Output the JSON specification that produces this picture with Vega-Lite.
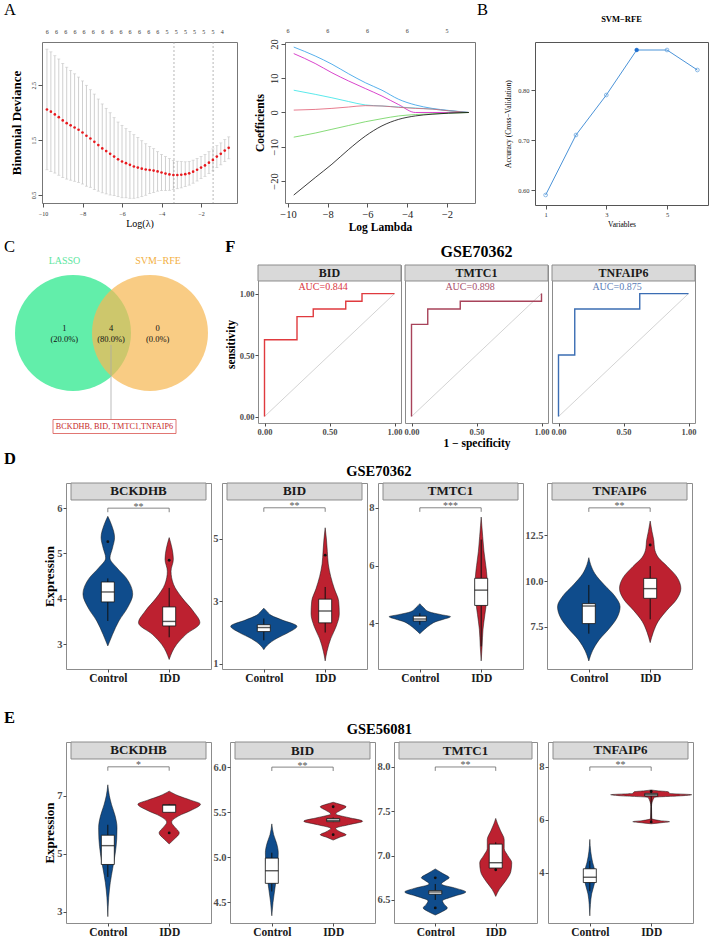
{
"padding":{"left":3,"top":1,"right":0,"bottom":0},
"background":"white",
"config":{
 "font":"Liberation Serif",
 "view":{"stroke":null},
 "axis":{"grid":false,"domain":false,"labelFontWeight":"bold","labelColor":"#4d4d4d","labelFontSize":10.5,"tickColor":"#4d4d4d","tickSize":3,"labelPadding":1,"titleFontWeight":"bold","titleColor":"#000","labelFlush":false,"labelOverlap":false}
},
"datasets":{
 "cv":[
  {"l":-9.8,"m":2.06,"lo":0.96,"hi":3.16},{"l":-9.6,"m":2.02,"lo":0.93,"hi":3.11},{"l":-9.4,"m":1.97,"lo":0.9,"hi":3.04},{"l":-9.2,"m":1.92,"lo":0.86,"hi":2.98},
  {"l":-9.0,"m":1.86,"lo":0.82,"hi":2.9},{"l":-8.8,"m":1.81,"lo":0.79,"hi":2.83},{"l":-8.6,"m":1.77,"lo":0.77,"hi":2.77},{"l":-8.4,"m":1.73,"lo":0.75,"hi":2.71},
  {"l":-8.2,"m":1.69,"lo":0.73,"hi":2.65},{"l":-8.0,"m":1.64,"lo":0.7,"hi":2.58},{"l":-7.8,"m":1.58,"lo":0.66,"hi":2.5},{"l":-7.6,"m":1.53,"lo":0.64,"hi":2.42},
  {"l":-7.4,"m":1.47,"lo":0.6,"hi":2.34},{"l":-7.2,"m":1.41,"lo":0.57,"hi":2.25},{"l":-7.0,"m":1.35,"lo":0.54,"hi":2.16},{"l":-6.8,"m":1.3,"lo":0.52,"hi":2.08},
  {"l":-6.6,"m":1.25,"lo":0.5,"hi":2.0},{"l":-6.4,"m":1.2,"lo":0.49,"hi":1.91},{"l":-6.2,"m":1.15,"lo":0.47,"hi":1.83},{"l":-6.0,"m":1.11,"lo":0.45,"hi":1.77},
  {"l":-5.8,"m":1.08,"lo":0.45,"hi":1.71},{"l":-5.6,"m":1.05,"lo":0.44,"hi":1.66},{"l":-5.4,"m":1.02,"lo":0.44,"hi":1.6},{"l":-5.2,"m":1.0,"lo":0.45,"hi":1.55},
  {"l":-5.0,"m":0.98,"lo":0.47,"hi":1.49},{"l":-4.8,"m":0.965,"lo":0.495,"hi":1.435},{"l":-4.6,"m":0.955,"lo":0.525,"hi":1.385},{"l":-4.4,"m":0.945,"lo":0.545,"hi":1.345},
  {"l":-4.2,"m":0.93,"lo":0.57,"hi":1.29},{"l":-4.0,"m":0.91,"lo":0.58,"hi":1.24},{"l":-3.8,"m":0.89,"lo":0.58,"hi":1.2},{"l":-3.6,"m":0.875,"lo":0.585,"hi":1.165},
  {"l":-3.4,"m":0.865,"lo":0.6,"hi":1.13},{"l":-3.2,"m":0.865,"lo":0.615,"hi":1.115},{"l":-3.0,"m":0.87,"lo":0.63,"hi":1.11},{"l":-2.8,"m":0.88,"lo":0.655,"hi":1.105},
  {"l":-2.6,"m":0.895,"lo":0.68,"hi":1.11},{"l":-2.4,"m":0.925,"lo":0.715,"hi":1.135},{"l":-2.2,"m":0.96,"lo":0.755,"hi":1.165},{"l":-2.0,"m":1.0,"lo":0.8,"hi":1.2},
  {"l":-1.8,"m":1.04,"lo":0.84,"hi":1.24},{"l":-1.6,"m":1.09,"lo":0.89,"hi":1.29},{"l":-1.4,"m":1.14,"lo":0.94,"hi":1.34},{"l":-1.2,"m":1.2,"lo":1.0,"hi":1.4},
  {"l":-1.0,"m":1.25,"lo":1.05,"hi":1.45},{"l":-0.8,"m":1.31,"lo":1.11,"hi":1.51},{"l":-0.6,"m":1.36,"lo":1.16,"hi":1.56}
 ],
 "cvn":[
  {"l":-9.78,"y":3.474,"n":"6"},{"l":-9.31,"y":3.474,"n":"6"},{"l":-8.85,"y":3.474,"n":"6"},{"l":-8.38,"y":3.474,"n":"6"},{"l":-7.92,"y":3.474,"n":"6"},{"l":-7.45,"y":3.474,"n":"6"},{"l":-6.98,"y":3.474,"n":"6"},
  {"l":-6.52,"y":3.474,"n":"6"},{"l":-6.05,"y":3.474,"n":"6"},{"l":-5.59,"y":3.474,"n":"6"},{"l":-5.12,"y":3.474,"n":"6"},{"l":-4.65,"y":3.474,"n":"6"},{"l":-4.19,"y":3.474,"n":"6"},
  {"l":-3.72,"y":3.474,"n":"5"},{"l":-3.26,"y":3.474,"n":"5"},{"l":-2.79,"y":3.474,"n":"5"},{"l":-2.33,"y":3.474,"n":"5"},{"l":-1.86,"y":3.474,"n":"5"},{"l":-1.4,"y":3.474,"n":"5"},{"l":-0.93,"y":3.474,"n":"4"}
 ],
 "coef":[
  {"s":"v1","l":-9.71,"c":19.1},{"s":"v1","l":-8.63,"c":16.5},{"s":"v1","l":-7.79,"c":14.1},{"s":"v1","l":-6.95,"c":11.3},{"s":"v1","l":-6.11,"c":8.7},{"s":"v1","l":-5.27,"c":6.5},{"s":"v1","l":-4.43,"c":3.85},{"s":"v1","l":-3.59,"c":2.2},{"s":"v1","l":-2.75,"c":1.2},{"s":"v1","l":-1.91,"c":0.6},{"s":"v1","l":-0.9,"c":0},
  {"s":"v2","l":-9.71,"c":17.2},{"s":"v2","l":-8.63,"c":14.3},{"s":"v2","l":-7.79,"c":11.6},{"s":"v2","l":-6.95,"c":9.2},{"s":"v2","l":-6.11,"c":7.0},{"s":"v2","l":-5.27,"c":4.8},{"s":"v2","l":-4.43,"c":2.3},{"s":"v2","l":-3.59,"c":0},{"s":"v2","l":-2.75,"c":0},{"s":"v2","l":-1.91,"c":0},{"s":"v2","l":-0.9,"c":0},
  {"s":"v3","l":-9.71,"c":6.5},{"s":"v3","l":-8.63,"c":5.3},{"s":"v3","l":-7.79,"c":4.3},{"s":"v3","l":-6.95,"c":3.2},{"s":"v3","l":-6.11,"c":2.2},{"s":"v3","l":-5.27,"c":1.9},{"s":"v3","l":-4.43,"c":1.6},{"s":"v3","l":-3.59,"c":1.3},{"s":"v3","l":-2.75,"c":1.0},{"s":"v3","l":-1.91,"c":0.5},{"s":"v3","l":-0.9,"c":0},
  {"s":"v4","l":-9.71,"c":0.7},{"s":"v4","l":-8.63,"c":0.9},{"s":"v4","l":-7.79,"c":1.2},{"s":"v4","l":-6.95,"c":1.6},{"s":"v4","l":-6.11,"c":2.0},{"s":"v4","l":-5.27,"c":1.9},{"s":"v4","l":-4.43,"c":1.5},{"s":"v4","l":-3.59,"c":1.2},{"s":"v4","l":-2.75,"c":1.0},{"s":"v4","l":-1.91,"c":0.5},{"s":"v4","l":-0.9,"c":0},
  {"s":"v5","l":-9.71,"c":-7.2},{"s":"v5","l":-8.63,"c":-6.0},{"s":"v5","l":-7.79,"c":-4.9},{"s":"v5","l":-6.95,"c":-3.8},{"s":"v5","l":-6.11,"c":-2.7},{"s":"v5","l":-5.27,"c":-1.8},{"s":"v5","l":-4.43,"c":-1.0},{"s":"v5","l":-3.59,"c":-0.6},{"s":"v5","l":-2.75,"c":-0.4},{"s":"v5","l":-1.91,"c":-0.2},{"s":"v5","l":-0.9,"c":0},
  {"s":"v6","l":-9.71,"c":-24.1},{"s":"v6","l":-8.63,"c":-19.0},{"s":"v6","l":-7.79,"c":-15.1},{"s":"v6","l":-6.95,"c":-10.8},{"s":"v6","l":-6.11,"c":-6.9},{"s":"v6","l":-5.27,"c":-3.9},{"s":"v6","l":-4.43,"c":-2.0},{"s":"v6","l":-3.59,"c":-1.0},{"s":"v6","l":-2.75,"c":-0.5},{"s":"v6","l":-1.91,"c":-0.2},{"s":"v6","l":-0.9,"c":0}
 ],
 "coefn":[{"l":-10,"c":23.8,"n":"6"},{"l":-8,"c":23.8,"n":"6"},{"l":-6,"c":23.8,"n":"6"},{"l":-4,"c":23.8,"n":"6"},{"l":-2,"c":23.8,"n":"5"}],
 "svm":[{"n":1,"a":0.59,"best":0},{"n":2,"a":0.71,"best":0},{"n":3,"a":0.79,"best":0},{"n":4,"a":0.88,"best":1},{"n":5,"a":0.88,"best":0},{"n":6,"a":0.84,"best":0}],
 "vennc":[{"s":"LASSO","x":1.55,"y":5.35},{"s":"SVM−RFE","x":5.4,"y":5.35}],
 "vennt":[{"x":1.125,"y":8.95,"t":"LASSO"},{"x":5.8,"y":8.95,"t":"SVM−RFE"}],
 "vennn":[{"x":1.115,"y":5.585,"t":"1"},{"x":1.115,"y":5.035,"t":"(20.0%)"},{"x":3.45,"y":5.585,"t":"4"},{"x":3.45,"y":5.035,"t":"(80.0%)"},{"x":5.785,"y":5.585,"t":"0"},{"x":5.785,"y":5.035,"t":"(0.0%)"}],
 "roc":[
  {"g":"BID","f":0,"t":0},{"g":"BID","f":0,"t":0.625},{"g":"BID","f":0.25,"t":0.8125},{"g":"BID","f":0.375,"t":0.875},{"g":"BID","f":0.625,"t":0.9375},{"g":"BID","f":0.75,"t":1},{"g":"BID","f":1,"t":1},
  {"g":"TMTC1","f":0,"t":0},{"g":"TMTC1","f":0,"t":0.75},{"g":"TMTC1","f":0.125,"t":0.875},{"g":"TMTC1","f":0.375,"t":0.9375},{"g":"TMTC1","f":1,"t":1},
  {"g":"TNFAIP6","f":0,"t":0},{"g":"TNFAIP6","f":0,"t":0.5},{"g":"TNFAIP6","f":0.125,"t":0.875},{"g":"TNFAIP6","f":0.625,"t":1},{"g":"TNFAIP6","f":1,"t":1}
 ],
 "auc":[{"g":"BID","f":0.45,"t":1.05,"lab":"AUC=0.844"},{"g":"TMTC1","f":0.45,"t":1.05,"lab":"AUC=0.898"},{"g":"TNFAIP6","f":0.45,"t":1.05,"lab":"AUC=0.875"}],
 "vio":[
  {"p":"D1","g":"Control","v":2.96,"x1":1,"x2":1},{"p":"D1","g":"Control","v":3.21,"x1":0.924,"x2":1.076},{"p":"D1","g":"Control","v":3.51,"x1":0.82,"x2":1.18},{"p":"D1","g":"Control","v":3.8,"x1":0.68,"x2":1.32},{"p":"D1","g":"Control","v":4.1,"x1":0.595,"x2":1.405},{"p":"D1","g":"Control","v":4.46,"x1":0.7,"x2":1.3},{"p":"D1","g":"Control","v":4.68,"x1":0.85,"x2":1.15},{"p":"D1","g":"Control","v":4.9,"x1":0.965,"x2":1.035},{"p":"D1","g":"Control","v":5.12,"x1":0.924,"x2":1.076},{"p":"D1","g":"Control","v":5.35,"x1":0.89,"x2":1.11},{"p":"D1","g":"Control","v":5.64,"x1":0.942,"x2":1.058},{"p":"D1","g":"Control","v":5.82,"x1":1,"x2":1},
  {"p":"D1","g":"IDD","v":2.66,"x1":2,"x2":2},{"p":"D1","g":"IDD","v":2.99,"x1":1.88,"x2":2.12},{"p":"D1","g":"IDD","v":3.21,"x1":1.73,"x2":2.27},{"p":"D1","g":"IDD","v":3.47,"x1":1.5,"x2":2.5},{"p":"D1","g":"IDD","v":3.73,"x1":1.61,"x2":2.39},{"p":"D1","g":"IDD","v":4.02,"x1":1.79,"x2":2.21},{"p":"D1","g":"IDD","v":4.32,"x1":1.93,"x2":2.07},{"p":"D1","g":"IDD","v":4.61,"x1":1.97,"x2":2.03},{"p":"D1","g":"IDD","v":4.87,"x1":1.932,"x2":2.068},{"p":"D1","g":"IDD","v":5.12,"x1":1.955,"x2":2.045},{"p":"D1","g":"IDD","v":5.35,"x1":2,"x2":2},
  {"p":"D2","g":"Control","v":1.45,"x1":1,"x2":1},{"p":"D2","g":"Control","v":1.6,"x1":0.94,"x2":1.06},{"p":"D2","g":"Control","v":1.8,"x1":0.8,"x2":1.2},{"p":"D2","g":"Control","v":2.0,"x1":0.6,"x2":1.4},{"p":"D2","g":"Control","v":2.2,"x1":0.46,"x2":1.54},{"p":"D2","g":"Control","v":2.4,"x1":0.7,"x2":1.3},{"p":"D2","g":"Control","v":2.55,"x1":0.88,"x2":1.12},{"p":"D2","g":"Control","v":2.7,"x1":0.96,"x2":1.04},{"p":"D2","g":"Control","v":2.78,"x1":1,"x2":1},
  {"p":"D2","g":"IDD","v":1.09,"x1":2,"x2":2},{"p":"D2","g":"IDD","v":1.4,"x1":1.97,"x2":2.03},{"p":"D2","g":"IDD","v":1.8,"x1":1.91,"x2":2.09},{"p":"D2","g":"IDD","v":2.2,"x1":1.82,"x2":2.18},{"p":"D2","g":"IDD","v":2.6,"x1":1.77,"x2":2.23},{"p":"D2","g":"IDD","v":3.0,"x1":1.78,"x2":2.22},{"p":"D2","g":"IDD","v":3.4,"x1":1.85,"x2":2.15},{"p":"D2","g":"IDD","v":3.8,"x1":1.91,"x2":2.09},{"p":"D2","g":"IDD","v":4.2,"x1":1.95,"x2":2.05},{"p":"D2","g":"IDD","v":4.6,"x1":1.965,"x2":2.035},{"p":"D2","g":"IDD","v":5.0,"x1":1.98,"x2":2.02},{"p":"D2","g":"IDD","v":5.36,"x1":2,"x2":2},
  {"p":"D3","g":"Control","v":3.64,"x1":1,"x2":1},{"p":"D3","g":"Control","v":3.8,"x1":0.92,"x2":1.08},{"p":"D3","g":"Control","v":3.95,"x1":0.83,"x2":1.17},{"p":"D3","g":"Control","v":4.05,"x1":0.75,"x2":1.25},{"p":"D3","g":"Control","v":4.15,"x1":0.6,"x2":1.4},{"p":"D3","g":"Control","v":4.23,"x1":0.5,"x2":1.5},{"p":"D3","g":"Control","v":4.3,"x1":0.65,"x2":1.35},{"p":"D3","g":"Control","v":4.4,"x1":0.85,"x2":1.15},{"p":"D3","g":"Control","v":4.55,"x1":0.94,"x2":1.06},{"p":"D3","g":"Control","v":4.68,"x1":1,"x2":1},
  {"p":"D3","g":"IDD","v":2.7,"x1":2,"x2":2},{"p":"D3","g":"IDD","v":3.2,"x1":1.985,"x2":2.015},{"p":"D3","g":"IDD","v":3.8,"x1":1.97,"x2":2.03},{"p":"D3","g":"IDD","v":4.3,"x1":1.94,"x2":2.06},{"p":"D3","g":"IDD","v":4.8,"x1":1.91,"x2":2.09},{"p":"D3","g":"IDD","v":5.2,"x1":1.9,"x2":2.1},{"p":"D3","g":"IDD","v":5.6,"x1":1.905,"x2":2.095},{"p":"D3","g":"IDD","v":6.0,"x1":1.925,"x2":2.075},{"p":"D3","g":"IDD","v":6.5,"x1":1.955,"x2":2.045},{"p":"D3","g":"IDD","v":7.0,"x1":1.975,"x2":2.025},{"p":"D3","g":"IDD","v":7.4,"x1":1.99,"x2":2.01},{"p":"D3","g":"IDD","v":7.68,"x1":2,"x2":2},
  {"p":"D4","g":"Control","v":5.64,"x1":1,"x2":1},{"p":"D4","g":"Control","v":6.2,"x1":0.94,"x2":1.06},{"p":"D4","g":"Control","v":6.8,"x1":0.83,"x2":1.17},{"p":"D4","g":"Control","v":7.4,"x1":0.67,"x2":1.33},{"p":"D4","g":"Control","v":8.0,"x1":0.54,"x2":1.46},{"p":"D4","g":"Control","v":8.6,"x1":0.49,"x2":1.51},{"p":"D4","g":"Control","v":9.2,"x1":0.58,"x2":1.42},{"p":"D4","g":"Control","v":9.8,"x1":0.75,"x2":1.25},{"p":"D4","g":"Control","v":10.4,"x1":0.9,"x2":1.1},{"p":"D4","g":"Control","v":10.9,"x1":0.97,"x2":1.03},{"p":"D4","g":"Control","v":11.28,"x1":1,"x2":1},
  {"p":"D4","g":"IDD","v":6.64,"x1":2,"x2":2},{"p":"D4","g":"IDD","v":7.2,"x1":1.95,"x2":2.05},{"p":"D4","g":"IDD","v":7.8,"x1":1.87,"x2":2.13},{"p":"D4","g":"IDD","v":8.4,"x1":1.73,"x2":2.27},{"p":"D4","g":"IDD","v":9.0,"x1":1.57,"x2":2.43},{"p":"D4","g":"IDD","v":9.6,"x1":1.5,"x2":2.5},{"p":"D4","g":"IDD","v":10.2,"x1":1.56,"x2":2.44},{"p":"D4","g":"IDD","v":10.8,"x1":1.72,"x2":2.28},{"p":"D4","g":"IDD","v":11.3,"x1":1.87,"x2":2.13},{"p":"D4","g":"IDD","v":11.8,"x1":1.93,"x2":2.07},{"p":"D4","g":"IDD","v":12.2,"x1":1.94,"x2":2.06},{"p":"D4","g":"IDD","v":12.7,"x1":1.97,"x2":2.03},{"p":"D4","g":"IDD","v":13.28,"x1":2,"x2":2},
  {"p":"E1","g":"Control","v":2.83,"x1":1,"x2":1},{"p":"E1","g":"Control","v":3.5,"x1":0.985,"x2":1.015},{"p":"E1","g":"Control","v":4.0,"x1":0.96,"x2":1.04},{"p":"E1","g":"Control","v":4.5,"x1":0.92,"x2":1.08},{"p":"E1","g":"Control","v":5.0,"x1":0.88,"x2":1.12},{"p":"E1","g":"Control","v":5.5,"x1":0.855,"x2":1.145},{"p":"E1","g":"Control","v":5.9,"x1":0.85,"x2":1.15},{"p":"E1","g":"Control","v":6.3,"x1":0.88,"x2":1.12},{"p":"E1","g":"Control","v":6.7,"x1":0.94,"x2":1.06},{"p":"E1","g":"Control","v":7.0,"x1":0.975,"x2":1.025},{"p":"E1","g":"Control","v":7.38,"x1":1,"x2":1},
  {"p":"E1","g":"IDD","v":5.34,"x1":2,"x2":2},{"p":"E1","g":"IDD","v":5.5,"x1":1.92,"x2":2.08},{"p":"E1","g":"IDD","v":5.72,"x1":1.835,"x2":2.165},{"p":"E1","g":"IDD","v":5.9,"x1":1.9,"x2":2.1},{"p":"E1","g":"IDD","v":6.09,"x1":1.96,"x2":2.04},{"p":"E1","g":"IDD","v":6.3,"x1":1.85,"x2":2.15},{"p":"E1","g":"IDD","v":6.5,"x1":1.64,"x2":2.36},{"p":"E1","g":"IDD","v":6.71,"x1":1.49,"x2":2.51},{"p":"E1","g":"IDD","v":6.85,"x1":1.65,"x2":2.35},{"p":"E1","g":"IDD","v":7.0,"x1":1.85,"x2":2.15},{"p":"E1","g":"IDD","v":7.16,"x1":2,"x2":2},
  {"p":"E2","g":"Control","v":4.35,"x1":1,"x2":1},{"p":"E2","g":"Control","v":4.5,"x1":0.98,"x2":1.02},{"p":"E2","g":"Control","v":4.65,"x1":0.95,"x2":1.05},{"p":"E2","g":"Control","v":4.8,"x1":0.92,"x2":1.08},{"p":"E2","g":"Control","v":4.95,"x1":0.9,"x2":1.1},{"p":"E2","g":"Control","v":5.05,"x1":0.895,"x2":1.105},{"p":"E2","g":"Control","v":5.15,"x1":0.92,"x2":1.08},{"p":"E2","g":"Control","v":5.25,"x1":0.97,"x2":1.03},{"p":"E2","g":"Control","v":5.37,"x1":1,"x2":1},
  {"p":"E2","g":"IDD","v":5.19,"x1":2,"x2":2},{"p":"E2","g":"IDD","v":5.22,"x1":1.9,"x2":2.1},{"p":"E2","g":"IDD","v":5.25,"x1":1.79,"x2":2.21},{"p":"E2","g":"IDD","v":5.28,"x1":1.88,"x2":2.12},{"p":"E2","g":"IDD","v":5.32,"x1":1.96,"x2":2.04},{"p":"E2","g":"IDD","v":5.36,"x1":1.75,"x2":2.25},{"p":"E2","g":"IDD","v":5.4,"x1":1.52,"x2":2.48},{"p":"E2","g":"IDD","v":5.44,"x1":1.75,"x2":2.25},{"p":"E2","g":"IDD","v":5.48,"x1":1.96,"x2":2.04},{"p":"E2","g":"IDD","v":5.52,"x1":1.88,"x2":2.12},{"p":"E2","g":"IDD","v":5.56,"x1":1.79,"x2":2.21},{"p":"E2","g":"IDD","v":5.59,"x1":1.9,"x2":2.1},{"p":"E2","g":"IDD","v":5.61,"x1":2,"x2":2},
  {"p":"E3","g":"Control","v":6.33,"x1":1,"x2":1},{"p":"E3","g":"Control","v":6.37,"x1":0.88,"x2":1.12},{"p":"E3","g":"Control","v":6.41,"x1":0.8,"x2":1.2},{"p":"E3","g":"Control","v":6.45,"x1":0.85,"x2":1.15},{"p":"E3","g":"Control","v":6.49,"x1":0.88,"x2":1.12},{"p":"E3","g":"Control","v":6.54,"x1":0.7,"x2":1.3},{"p":"E3","g":"Control","v":6.59,"x1":0.495,"x2":1.505},{"p":"E3","g":"Control","v":6.63,"x1":0.65,"x2":1.35},{"p":"E3","g":"Control","v":6.68,"x1":0.9,"x2":1.1},{"p":"E3","g":"Control","v":6.72,"x1":0.83,"x2":1.17},{"p":"E3","g":"Control","v":6.75,"x1":0.77,"x2":1.23},{"p":"E3","g":"Control","v":6.8,"x1":0.88,"x2":1.12},{"p":"E3","g":"Control","v":6.85,"x1":1,"x2":1},
  {"p":"E3","g":"IDD","v":6.54,"x1":2,"x2":2},{"p":"E3","g":"IDD","v":6.62,"x1":1.94,"x2":2.06},{"p":"E3","g":"IDD","v":6.72,"x1":1.83,"x2":2.17},{"p":"E3","g":"IDD","v":6.82,"x1":1.75,"x2":2.25},{"p":"E3","g":"IDD","v":6.92,"x1":1.735,"x2":2.265},{"p":"E3","g":"IDD","v":7.0,"x1":1.8,"x2":2.2},{"p":"E3","g":"IDD","v":7.08,"x1":1.86,"x2":2.14},{"p":"E3","g":"IDD","v":7.18,"x1":1.86,"x2":2.14},{"p":"E3","g":"IDD","v":7.28,"x1":1.92,"x2":2.08},{"p":"E3","g":"IDD","v":7.36,"x1":1.97,"x2":2.03},{"p":"E3","g":"IDD","v":7.42,"x1":2,"x2":2},
  {"p":"E4","g":"Control","v":2.37,"x1":1,"x2":1},{"p":"E4","g":"Control","v":2.8,"x1":0.99,"x2":1.01},{"p":"E4","g":"Control","v":3.2,"x1":0.97,"x2":1.03},{"p":"E4","g":"Control","v":3.5,"x1":0.935,"x2":1.065},{"p":"E4","g":"Control","v":3.8,"x1":0.91,"x2":1.09},{"p":"E4","g":"Control","v":4.1,"x1":0.92,"x2":1.08},{"p":"E4","g":"Control","v":4.4,"x1":0.955,"x2":1.045},{"p":"E4","g":"Control","v":4.8,"x1":0.985,"x2":1.015},{"p":"E4","g":"Control","v":5.26,"x1":1,"x2":1},
  {"p":"E4","g":"IDD","v":5.85,"x1":2,"x2":2},{"p":"E4","g":"IDD","v":5.9,"x1":1.8,"x2":2.2},{"p":"E4","g":"IDD","v":5.93,"x1":1.7,"x2":2.3},{"p":"E4","g":"IDD","v":5.97,"x1":1.85,"x2":2.15},{"p":"E4","g":"IDD","v":6.05,"x1":1.99,"x2":2.01},{"p":"E4","g":"IDD","v":6.5,"x1":1.995,"x2":2.005},{"p":"E4","g":"IDD","v":6.85,"x1":1.95,"x2":2.05},{"p":"E4","g":"IDD","v":6.91,"x1":1.5,"x2":2.5},{"p":"E4","g":"IDD","v":6.95,"x1":1.34,"x2":2.66},{"p":"E4","g":"IDD","v":7.0,"x1":1.7,"x2":2.3},{"p":"E4","g":"IDD","v":7.06,"x1":1.72,"x2":2.28},{"p":"E4","g":"IDD","v":7.1,"x1":1.9,"x2":2.1},{"p":"E4","g":"IDD","v":7.13,"x1":2,"x2":2}
 ],
 "box":[
  {"p":"D1","pos":1,"lo":3.51,"q1":3.93,"md":4.15,"q3":4.37,"hi":4.45},{"p":"D1","pos":2,"lo":3.15,"q1":3.4,"md":3.5,"q3":3.82,"hi":4.24},
  {"p":"D2","pos":1,"lo":1.75,"q1":2.03,"md":2.16,"q3":2.25,"hi":2.45},{"p":"D2","pos":2,"lo":2.0,"q1":2.31,"md":2.69,"q3":3.07,"hi":3.46},
  {"p":"D3","pos":1,"lo":3.95,"q1":4.08,"md":4.15,"q3":4.25,"hi":4.35},{"p":"D3","pos":2,"lo":3.2,"q1":4.62,"md":5.15,"q3":5.56,"hi":6.9},
  {"p":"D4","pos":1,"lo":7.13,"q1":7.68,"md":8.64,"q3":8.77,"hi":9.79},{"p":"D4","pos":2,"lo":7.91,"q1":9.06,"md":9.59,"q3":10.15,"hi":10.82},
  {"p":"E1","pos":1,"lo":4.2,"q1":4.63,"md":5.28,"q3":5.64,"hi":6.0},{"p":"E1","pos":2,"lo":6.43,"q1":6.43,"md":6.68,"q3":6.69,"hi":6.72},
  {"p":"E2","pos":1,"lo":4.62,"q1":4.71,"md":4.85,"q3":4.99,"hi":5.05},{"p":"E2","pos":2,"lo":5.39,"q1":5.395,"md":5.41,"q3":5.43,"hi":5.44},
  {"p":"E3","pos":1,"lo":6.5,"q1":6.565,"md":6.59,"q3":6.605,"hi":6.68},{"p":"E3","pos":2,"lo":6.84,"q1":6.86,"md":6.92,"q3":7.13,"hi":7.15},
  {"p":"E4","pos":1,"lo":3.3,"q1":3.63,"md":3.83,"q3":4.15,"hi":4.45},{"p":"E4","pos":2,"lo":5.93,"q1":6.9,"md":6.95,"q3":7.0,"hi":7.07}
 ],
 "out":[
  {"p":"D1","pos":1,"v":5.26},{"p":"D1","pos":2,"v":4.85},{"p":"D2","pos":2,"v":4.48},{"p":"D4","pos":2,"v":11.97},
  {"p":"E1","pos":2,"v":5.72},{"p":"E2","pos":2,"v":5.56},{"p":"E2","pos":2,"v":5.25},{"p":"E3","pos":1,"v":6.75},{"p":"E3","pos":1,"v":6.41},{"p":"E3","pos":2,"v":6.84},{"p":"E4","pos":2,"v":5.92},{"p":"E4","pos":2,"v":7.07}
 ],
 "brk":[
  {"p":"D1","x1":1,"x2":2,"v":6,"v2":6},{"p":"D1","x1":1,"x2":1,"v":5.91,"v2":6},{"p":"D1","x1":2,"x2":2,"v":5.91,"v2":6},
  {"p":"D2","x1":1,"x2":2,"v":6,"v2":6},{"p":"D2","x1":1,"x2":1,"v":5.87,"v2":6},{"p":"D2","x1":2,"x2":2,"v":5.87,"v2":6},
  {"p":"D3","x1":1,"x2":2,"v":8,"v2":8},{"p":"D3","x1":1,"x2":1,"v":7.86,"v2":8},{"p":"D3","x1":2,"x2":2,"v":7.86,"v2":8},
  {"p":"D4","x1":1,"x2":2,"v":14,"v2":14},{"p":"D4","x1":1,"x2":1,"v":13.78,"v2":14},{"p":"D4","x1":2,"x2":2,"v":13.78,"v2":14},
  {"p":"E1","x1":1,"x2":2,"v":8,"v2":8},{"p":"E1","x1":1,"x2":1,"v":7.865,"v2":8},{"p":"E1","x1":2,"x2":2,"v":7.865,"v2":8},
  {"p":"E2","x1":1,"x2":2,"v":6,"v2":6},{"p":"E2","x1":1,"x2":1,"v":5.957,"v2":6},{"p":"E2","x1":2,"x2":2,"v":5.957,"v2":6},
  {"p":"E3","x1":1,"x2":2,"v":8,"v2":8},{"p":"E3","x1":1,"x2":1,"v":7.956,"v2":8},{"p":"E3","x1":2,"x2":2,"v":7.956,"v2":8},
  {"p":"E4","x1":1,"x2":2,"v":8,"v2":8},{"p":"E4","x1":1,"x2":1,"v":7.85,"v2":8},{"p":"E4","x1":2,"x2":2,"v":7.85,"v2":8}
 ],
 "sig":[
  {"p":"D1","x":1.5,"v":6,"t":"**"},{"p":"D2","x":1.5,"v":6,"t":"**"},{"p":"D3","x":1.5,"v":8,"t":"***"},{"p":"D4","x":1.5,"v":14,"t":"**"},
  {"p":"E1","x":1.5,"v":8,"t":"*"},{"p":"E2","x":1.5,"v":6,"t":"**"},{"p":"E3","x":1.5,"v":8,"t":"**"},{"p":"E4","x":1.5,"v":8,"t":"**"}
 ],
 "strip":[
  {"p":"D1","t":"BCKDHB","x1":0.4,"x2":2.6,"xm":1.5,"y1":6.18,"y2":6.555,"ym":6.3675},
  {"p":"D2","t":"BID","x1":0.4,"x2":2.6,"xm":1.5,"y1":6.25,"y2":6.795,"ym":6.5225},
  {"p":"D3","t":"TMTC1","x1":0.4,"x2":2.6,"xm":1.5,"y1":8.27,"y2":8.858,"ym":8.564},
  {"p":"D4","t":"TNFAIP6","x1":0.4,"x2":2.6,"xm":1.5,"y1":14.43,"y2":15.358,"ym":14.894},
  {"p":"E1","t":"BCKDHB","x1":0.4,"x2":2.6,"xm":1.5,"y1":8.27,"y2":8.8567,"ym":8.5634},
  {"p":"E2","t":"BID","x1":0.4,"x2":2.6,"xm":1.5,"y1":6.09,"y2":6.2787,"ym":6.1843},
  {"p":"E3","t":"TMTC1","x1":0.4,"x2":2.6,"xm":1.5,"y1":8.09,"y2":8.2818,"ym":8.1859},
  {"p":"E4","t":"TNFAIP6","x1":0.4,"x2":2.6,"xm":1.5,"y1":8.3,"y2":8.9427,"ym":8.6214},
  {"p":"BID","t":"BID","x1":-0.05,"x2":1.05,"xm":0.5,"y1":1.1025,"y2":1.2326,"ym":1.1676},
  {"p":"TMTC1","t":"TMTC1","x1":-0.05,"x2":1.05,"xm":0.5,"y1":1.1025,"y2":1.2326,"ym":1.1676},
  {"p":"TNFAIP6","t":"TNFAIP6","x1":-0.05,"x2":1.05,"xm":0.5,"y1":1.1025,"y2":1.2326,"ym":1.1676}
 ]
},
"spacing":0,
"vconcat":[
 {"spacing":4,"vconcat":[
  {"spacing":0,"hconcat":[
   {"spacing":15,"hconcat":[
    {"width":195,"height":161,"view":{"stroke":"#777"},
     "layer":[
      {"data":{"name":"cv"},"mark":{"type":"rule","color":"#c4c4c4","strokeWidth":0.8},
       "encoding":{
        "x":{"field":"l","type":"quantitative","scale":{"domain":[-10.05,-0.18],"nice":false,"zero":false},
         "axis":{"values":[-10,-8,-6,-4,-2],"title":"Log(λ)","titleFontWeight":"normal","titleFontSize":10,"titlePadding":2,"labelFontSize":6,"labelFontWeight":"normal","labelColor":"#333","tickSize":4,"tickColor":"#555","labelPadding":3}},
        "y":{"field":"lo","type":"quantitative","scale":{"domain":[0.354,3.29],"nice":false,"zero":false},
         "axis":{"values":[0.5,1,1.5,2,2.5,3],"format":".1f","title":"Binomial Deviance","titleFontSize":13,"titlePadding":7,"labelFontSize":6,"labelFontWeight":"normal","labelColor":"#333","labelAngle":-90,"labelAlign":"center","labelBaseline":"bottom","tickSize":4,"tickColor":"#555","labelPadding":2}},
        "y2":{"field":"hi"}}},
      {"data":{"name":"cv"},"mark":{"type":"tick","orient":"horizontal","size":3,"thickness":0.8,"color":"#c4c4c4"},"encoding":{"x":{"field":"l","type":"quantitative"},"y":{"field":"lo","type":"quantitative"}}},
      {"data":{"name":"cv"},"mark":{"type":"tick","orient":"horizontal","size":3,"thickness":0.8,"color":"#c4c4c4"},"encoding":{"x":{"field":"l","type":"quantitative"},"y":{"field":"hi","type":"quantitative"}}},
      {"data":{"values":[{"l":-3.37},{"l":-1.39}]},"mark":{"type":"rule","color":"#9a9a9a","strokeDash":[2,2],"strokeWidth":0.7},"encoding":{"x":{"field":"l","type":"quantitative"}}},
      {"data":{"name":"cv"},"mark":{"type":"point","filled":true,"color":"#e8191e","size":7,"opacity":1},"encoding":{"x":{"field":"l","type":"quantitative"},"y":{"field":"m","type":"quantitative"}}},
      {"data":{"name":"cvn"},"mark":{"type":"text","fontSize":6,"color":"#333"},"encoding":{"x":{"field":"l","type":"quantitative"},"y":{"field":"y","type":"quantitative"},"text":{"field":"n"}}},
      {"data":{"values":[{"t":"A","l":-11.97,"y":3.785}]},"mark":{"type":"text","fontSize":16.5,"align":"left","baseline":"alphabetic","color":"#000"},"encoding":{"x":{"field":"l","type":"quantitative"},"y":{"field":"y","type":"quantitative"},"text":{"field":"t"}}}
     ]},
    {"width":190,"height":161,"view":{"stroke":"#777"},
     "layer":[
      {"data":{"name":"coef"},"mark":{"type":"line","strokeWidth":0.9,"interpolate":"monotone","opacity":0.85},
       "encoding":{
        "x":{"field":"l","type":"quantitative","scale":{"domain":[-10.15,-0.59],"nice":false,"zero":false},
         "axis":{"values":[-10,-8,-6,-4,-2],"title":"Log Lambda","titleFontSize":11.5,"titlePadding":2,"labelFontSize":10.5,"labelFontWeight":"normal","labelColor":"#222","tickSize":4,"tickColor":"#555","labelPadding":2}},
        "y":{"field":"c","type":"quantitative","scale":{"domain":[-26.42,20.58],"nice":false,"zero":false},
         "axis":{"values":[-20,-10,0,10,20],"title":"Coefficients","titleFontSize":11.5,"titlePadding":4,"labelFontSize":10.5,"labelFontWeight":"normal","labelColor":"#222","labelAngle":-90,"labelAlign":"center","labelBaseline":"bottom","tickSize":4,"tickColor":"#555","labelPadding":2}},
        "color":{"field":"s","type":"nominal","scale":{"domain":["v1","v2","v3","v4","v5","v6"],"range":["#2297E6","#CD0BBC","#28E2E5","#DF536B","#61D04F","#000000"]},"legend":null}}},
      {"data":{"name":"coefn"},"mark":{"type":"text","fontSize":6,"color":"#333"},"encoding":{"x":{"field":"l","type":"quantitative"},"y":{"field":"c","type":"quantitative"},"text":{"field":"n"}}}
     ]}
   ]},
   {"width":173,"height":163,"view":{"stroke":"#555"},
    "layer":[
     {"data":{"name":"svm"},"mark":{"type":"line","color":"#4b93d8","strokeWidth":1},
      "encoding":{
       "x":{"field":"n","type":"quantitative","scale":{"domain":[0.65,6.35],"nice":false,"zero":false},
        "axis":{"values":[1,2,3,4,5,6],"title":"Variables","titleFontSize":7.5,"titleFontWeight":"normal","titlePadding":3,"labelFontSize":6.5,"labelFontWeight":"normal","labelColor":"#333","tickSize":4,"tickColor":"#555","labelPadding":2}},
       "y":{"field":"a","type":"quantitative","scale":{"domain":[0.57,0.896],"nice":false,"zero":false},
        "axis":{"values":[0.6,0.65,0.7,0.75,0.8,0.85],"format":".2f","title":"Accuracy (Cross−Validation)","titleFontSize":7.5,"titleFontWeight":"normal","titlePadding":5,"labelFontSize":6.5,"labelFontWeight":"normal","labelColor":"#333","tickSize":4,"tickColor":"#555","labelPadding":2}}}},
     {"data":{"name":"svm"},"mark":{"type":"point","shape":"circle","filled":false,"color":"#4b93d8","size":14,"strokeWidth":0.9},
      "encoding":{"x":{"field":"n","type":"quantitative"},"y":{"field":"a","type":"quantitative"}}},
     {"data":{"name":"svm"},"transform":[{"filter":"datum.best==1"}],"mark":{"type":"point","shape":"circle","filled":true,"color":"#1f6fd0","size":16,"opacity":1},
      "encoding":{"x":{"field":"n","type":"quantitative"},"y":{"field":"a","type":"quantitative"}}},
     {"data":{"values":[{"t":"SVM−RFE","n":3.5,"a":0.936}]},"mark":{"type":"text","fontSize":8.5,"fontWeight":"bold","baseline":"alphabetic","color":"#000"},"encoding":{"x":{"field":"n","type":"quantitative"},"y":{"field":"a","type":"quantitative"},"text":{"field":"t"}}},
     {"data":{"values":[{"t":"B","n":-1.261,"a":0.95}]},"mark":{"type":"text","fontSize":16.5,"align":"left","baseline":"alphabetic","color":"#000"},"encoding":{"x":{"field":"n","type":"quantitative"},"y":{"field":"a","type":"quantitative"},"text":{"field":"t"}}}
    ]}
  ]},
  {"spacing":0,"hconcat":[
   {"width":182,"height":175,
    "layer":[
     {"data":{"name":"vennc"},"transform":[{"filter":"datum.s=='LASSO'"}],"mark":{"type":"point","shape":"circle","filled":true,"size":13456,"color":"#62eeaa","opacity":1},
      "encoding":{"x":{"field":"x","type":"quantitative","scale":{"domain":[0,9.1],"nice":false,"zero":false},"axis":null},"y":{"field":"y","type":"quantitative","scale":{"domain":[0,8.75],"nice":false,"zero":false},"axis":null}}},
     {"data":{"name":"vennc"},"transform":[{"filter":"datum.s!='LASSO'"}],"mark":{"type":"point","shape":"circle","filled":true,"size":13456,"color":"#f7b955","opacity":0.72},
      "encoding":{"x":{"field":"x","type":"quantitative","axis":null},"y":{"field":"y","type":"quantitative","axis":null}}},
     {"data":{"name":"vennt"},"transform":[{"filter":"datum.t=='LASSO'"}],"mark":{"type":"text","fontSize":10,"color":"#5ee6a0"},
      "encoding":{"x":{"field":"x","type":"quantitative","axis":null},"y":{"field":"y","type":"quantitative","axis":null},"text":{"field":"t"}}},
     {"data":{"name":"vennt"},"transform":[{"filter":"datum.t!='LASSO'"}],"mark":{"type":"text","fontSize":10,"color":"#f3b03f"},
      "encoding":{"x":{"field":"x","type":"quantitative","axis":null},"y":{"field":"y","type":"quantitative","axis":null},"text":{"field":"t"}}},
     {"data":{"name":"vennn"},"mark":{"type":"text","fontSize":8.5,"color":"#111"},
      "encoding":{"x":{"field":"x","type":"quantitative","axis":null},"y":{"field":"y","type":"quantitative","axis":null},"text":{"field":"t"}}},
     {"data":{"values":[{"x":3.45,"y":4.75,"y2":1.0}]},"mark":{"type":"rule","color":"#aaa","strokeWidth":0.8},
      "encoding":{"x":{"field":"x","type":"quantitative","axis":null},"y":{"field":"y","type":"quantitative","axis":null},"y2":{"field":"y2"}}},
     {"data":{"values":[{"x":0.55,"x2":6.7,"y":1.025,"y2":0.325}]},"mark":{"type":"rect","fill":"#fff","stroke":"#d9534f","strokeWidth":0.8},
      "encoding":{"x":{"field":"x","type":"quantitative","axis":null},"x2":{"field":"x2"},"y":{"field":"y","type":"quantitative","axis":null},"y2":{"field":"y2"}}},
     {"data":{"values":[{"x":3.625,"y":0.675,"t":"BCKDHB, BID, TMTC1,TNFAIP6"}]},"mark":{"type":"text","fontSize":8.2,"color":"#c62828"},
      "encoding":{"x":{"field":"x","type":"quantitative","axis":null},"y":{"field":"y","type":"quantitative","axis":null},"text":{"field":"t"}}},
     {"data":{"values":[{"t":"C","x":-1.9,"y":9.4}]},"mark":{"type":"text","fontSize":16.5,"align":"left","baseline":"alphabetic","color":"#000"},
      "encoding":{"x":{"field":"x","type":"quantitative","axis":null},"y":{"field":"y","type":"quantitative","axis":null},"text":{"field":"t"}}}
    ]},
   {"spacing":0,"hconcat":[
    {"width":143,"height":158,"view":{"stroke":"#8c8c8c"},
     "title":{"text":"F","anchor":"start","frame":"bounds","fontSize":16.5,"offset":-3.5,"baseline":"alphabetic"},
     "layer":[
      {"data":{"name":"strip"},"transform":[{"filter":"datum.p=='BID'"}],"mark":{"type":"rect","fill":"#d9d9d9","stroke":"#8c8c8c","strokeWidth":1},"encoding":{"x":{"field":"x1","type":"quantitative"},"x2":{"field":"x2"},"y":{"field":"y1","type":"quantitative"},"y2":{"field":"y2"}}},
      {"data":{"name":"strip"},"transform":[{"filter":"datum.p=='BID'"}],"mark":{"type":"text","fontSize":12,"fontWeight":"bold","color":"#1a1a1a"},"encoding":{"x":{"field":"xm","type":"quantitative"},"y":{"field":"ym","type":"quantitative"},"text":{"field":"t"}}},
      {"data":{"values":[{"f":0,"t":0,"f2":1,"t2":1}]},"mark":{"type":"rule","color":"#c8c8c8","strokeWidth":0.8},"encoding":{"x":{"field":"f","type":"quantitative"},"y":{"field":"t","type":"quantitative"},"x2":{"field":"f2"},"y2":{"field":"t2"}}},
      {"data":{"name":"roc"},"transform":[{"filter":"datum.g=='BID'"}],"mark":{"type":"line","interpolate":"step-after","color":"#e03a3e","strokeWidth":1.4},
       "encoding":{"x":{"field":"f","type":"quantitative","scale":{"domain":[-0.05,1.05],"nice":false,"zero":false},"axis":{"values":[0,0.25,0.5,0.75,1],"format":".2f","title":null,"labelFontSize":8.5}},
        "y":{"field":"t","type":"quantitative","scale":{"domain":[-0.0525,1.2326],"nice":false,"zero":false},"axis":{"values":[0,0.25,0.5,0.75,1],"format":".2f","title":"sensitivity","titleFontSize":11.5,"titlePadding":3,"labelFontSize":8.5}}}},
      {"data":{"name":"auc"},"transform":[{"filter":"datum.g=='BID'"}],"mark":{"type":"text","fontSize":10,"color":"#d9363e"},"encoding":{"x":{"field":"f","type":"quantitative"},"y":{"field":"t","type":"quantitative"},"text":{"field":"lab"}}}
     ]},
    {"width":143,"height":158,"view":{"stroke":"#8c8c8c"},
     "title":{"text":"GSE70362","anchor":"middle","frame":"group","fontSize":16,"fontWeight":"bold","offset":-8,"baseline":"alphabetic"},
     "layer":[
      {"data":{"name":"strip"},"transform":[{"filter":"datum.p=='TMTC1'"}],"mark":{"type":"rect","fill":"#d9d9d9","stroke":"#8c8c8c","strokeWidth":1},"encoding":{"x":{"field":"x1","type":"quantitative"},"x2":{"field":"x2"},"y":{"field":"y1","type":"quantitative","axis":null},"y2":{"field":"y2"}}},
      {"data":{"name":"strip"},"transform":[{"filter":"datum.p=='TMTC1'"}],"mark":{"type":"text","fontSize":12,"fontWeight":"bold","color":"#1a1a1a"},"encoding":{"x":{"field":"xm","type":"quantitative"},"y":{"field":"ym","type":"quantitative","axis":null},"text":{"field":"t"}}},
      {"data":{"values":[{"f":0,"t":0,"f2":1,"t2":1}]},"mark":{"type":"rule","color":"#c8c8c8","strokeWidth":0.8},"encoding":{"x":{"field":"f","type":"quantitative"},"y":{"field":"t","type":"quantitative","axis":null},"x2":{"field":"f2"},"y2":{"field":"t2"}}},
      {"data":{"name":"roc"},"transform":[{"filter":"datum.g=='TMTC1'"}],"mark":{"type":"line","interpolate":"step-after","color":"#a8435a","strokeWidth":1.4},
       "encoding":{"x":{"field":"f","type":"quantitative","scale":{"domain":[-0.05,1.05],"nice":false,"zero":false},"axis":{"values":[0,0.25,0.5,0.75,1],"format":".2f","title":"1 − specificity","titleFontSize":11.5,"titlePadding":2,"labelFontSize":8.5}},
        "y":{"field":"t","type":"quantitative","scale":{"domain":[-0.0525,1.2326],"nice":false,"zero":false},"axis":null}}},
      {"data":{"name":"auc"},"transform":[{"filter":"datum.g=='TMTC1'"}],"mark":{"type":"text","fontSize":10,"color":"#a9506b"},"encoding":{"x":{"field":"f","type":"quantitative"},"y":{"field":"t","type":"quantitative","axis":null},"text":{"field":"lab"}}}
     ]},
    {"width":143,"height":158,"view":{"stroke":"#8c8c8c"},
     "layer":[
      {"data":{"name":"strip"},"transform":[{"filter":"datum.p=='TNFAIP6'"}],"mark":{"type":"rect","fill":"#d9d9d9","stroke":"#8c8c8c","strokeWidth":1},"encoding":{"x":{"field":"x1","type":"quantitative"},"x2":{"field":"x2"},"y":{"field":"y1","type":"quantitative","axis":null},"y2":{"field":"y2"}}},
      {"data":{"name":"strip"},"transform":[{"filter":"datum.p=='TNFAIP6'"}],"mark":{"type":"text","fontSize":12,"fontWeight":"bold","color":"#1a1a1a"},"encoding":{"x":{"field":"xm","type":"quantitative"},"y":{"field":"ym","type":"quantitative","axis":null},"text":{"field":"t"}}},
      {"data":{"values":[{"f":0,"t":0,"f2":1,"t2":1}]},"mark":{"type":"rule","color":"#c8c8c8","strokeWidth":0.8},"encoding":{"x":{"field":"f","type":"quantitative"},"y":{"field":"t","type":"quantitative","axis":null},"x2":{"field":"f2"},"y2":{"field":"t2"}}},
      {"data":{"name":"roc"},"transform":[{"filter":"datum.g=='TNFAIP6'"}],"mark":{"type":"line","interpolate":"step-after","color":"#3b6db3","strokeWidth":1.4},
       "encoding":{"x":{"field":"f","type":"quantitative","scale":{"domain":[-0.05,1.05],"nice":false,"zero":false},"axis":{"values":[0,0.25,0.5,0.75,1],"format":".2f","title":null,"labelFontSize":8.5}},
        "y":{"field":"t","type":"quantitative","scale":{"domain":[-0.0525,1.2326],"nice":false,"zero":false},"axis":null}}},
      {"data":{"name":"auc"},"transform":[{"filter":"datum.g=='TNFAIP6'"}],"mark":{"type":"text","fontSize":10,"color":"#5a7db8"},"encoding":{"x":{"field":"f","type":"quantitative"},"y":{"field":"t","type":"quantitative","axis":null},"text":{"field":"lab"}}}
     ]}
   ]}
  ]}
 ]},
 {"spacing":24,"vconcat":[
  {"spacing":0,"hconcat":[
   {"width":1,"height":1,"title":{"text":"D","anchor":"start","frame":"group","fontSize":16.5,"offset":-2.5,"dx":-38,"baseline":"alphabetic"},"data":{"values":[{"t":""}]},"mark":{"type":"text"},"encoding":{"text":{"field":"t"}}},
   {"spacing":0,"title":{"text":"GSE70362","anchor":"middle","fontSize":14.5,"fontWeight":"bold","offset":-8.5,"dx":11,"baseline":"alphabetic"},"hconcat":[
    {"width":145,"height":186,"view":{"stroke":"#8c8c8c"},"layer":[
     {"data":{"name":"strip"},"transform":[{"filter":"datum.p=='D1'"}],"mark":{"type":"rect","fill":"#d9d9d9","stroke":"#8c8c8c","strokeWidth":1},"encoding":{"x":{"field":"x1","type":"quantitative"},"x2":{"field":"x2"},"y":{"field":"y1","type":"quantitative"},"y2":{"field":"y2"}}},
     {"data":{"name":"strip"},"transform":[{"filter":"datum.p=='D1'"}],"mark":{"type":"text","fontSize":13,"fontWeight":"bold","color":"#1a1a1a"},"encoding":{"x":{"field":"xm","type":"quantitative"},"y":{"field":"ym","type":"quantitative"},"text":{"field":"t"}}},
     {"data":{"name":"vio"},"transform":[{"filter":"datum.p=='D1' && datum.g=='Control'"}],"mark":{"type":"area","orient":"horizontal","interpolate":"monotone","fill":"#0f4c8c","stroke":"#111","strokeWidth":0.5},"encoding":{"y":{"field":"v","type":"quantitative","scale":{"domain":[2.45,6.555],"nice":false,"zero":false},"axis":{"values":[3,4,5,6],"title":"Expression","titleFontSize":13,"titlePadding":0}},"x":{"field":"x1","type":"quantitative","stack":null,"scale":{"domain":[0.4,2.6],"nice":false,"zero":false},"axis":{"values":[1,2],"labelExpr":"datum.value==1?'Control':'IDD'","title":null,"labelColor":"#1a1a1a","labelFontSize":11.5,"labelPadding":0.5}},"x2":{"field":"x2"}}},
     {"data":{"name":"vio"},"transform":[{"filter":"datum.p=='D1' && datum.g=='IDD'"}],"mark":{"type":"area","orient":"horizontal","interpolate":"monotone","fill":"#bd2130","stroke":"#111","strokeWidth":0.5},"encoding":{"y":{"field":"v","type":"quantitative"},"x":{"field":"x1","type":"quantitative","stack":null},"x2":{"field":"x2"}}},
     {"data":{"name":"box"},"transform":[{"filter":"datum.p=='D1'"}],"mark":{"type":"rule","color":"#111","strokeWidth":1},"encoding":{"x":{"field":"pos","type":"quantitative"},"y":{"field":"lo","type":"quantitative"},"y2":{"field":"hi"}}},
     {"data":{"name":"box"},"transform":[{"filter":"datum.p=='D1'"}],"mark":{"type":"bar","width":13,"fill":"#fff","stroke":"#111","strokeWidth":0.8},"encoding":{"x":{"field":"pos","type":"quantitative"},"y":{"field":"q1","type":"quantitative"},"y2":{"field":"q3"}}},
     {"data":{"name":"box"},"transform":[{"filter":"datum.p=='D1'"}],"mark":{"type":"tick","orient":"horizontal","size":13,"thickness":1.4,"color":"#111"},"encoding":{"x":{"field":"pos","type":"quantitative"},"y":{"field":"md","type":"quantitative"}}},
     {"data":{"name":"out"},"transform":[{"filter":"datum.p=='D1'"}],"mark":{"type":"point","filled":true,"color":"#111","size":8,"opacity":1},"encoding":{"x":{"field":"pos","type":"quantitative"},"y":{"field":"v","type":"quantitative"}}},
     {"data":{"name":"brk"},"transform":[{"filter":"datum.p=='D1'"}],"mark":{"type":"rule","color":"#666","strokeWidth":0.8},"encoding":{"x":{"field":"x1","type":"quantitative"},"x2":{"field":"x2"},"y":{"field":"v","type":"quantitative"},"y2":{"field":"v2"}}},
     {"data":{"name":"sig"},"transform":[{"filter":"datum.p=='D1'"}],"mark":{"type":"text","fontSize":10,"color":"#555","baseline":"alphabetic","dy":1.5},"encoding":{"x":{"field":"x","type":"quantitative"},"y":{"field":"v","type":"quantitative"},"text":{"field":"t"}}}
    ]},
    {"width":145,"height":186,"view":{"stroke":"#8c8c8c"},"layer":[
     {"data":{"name":"strip"},"transform":[{"filter":"datum.p=='D2'"}],"mark":{"type":"rect","fill":"#d9d9d9","stroke":"#8c8c8c","strokeWidth":1},"encoding":{"x":{"field":"x1","type":"quantitative"},"x2":{"field":"x2"},"y":{"field":"y1","type":"quantitative"},"y2":{"field":"y2"}}},
     {"data":{"name":"strip"},"transform":[{"filter":"datum.p=='D2'"}],"mark":{"type":"text","fontSize":13,"fontWeight":"bold","color":"#1a1a1a"},"encoding":{"x":{"field":"xm","type":"quantitative"},"y":{"field":"ym","type":"quantitative"},"text":{"field":"t"}}},
     {"data":{"name":"vio"},"transform":[{"filter":"datum.p=='D2' && datum.g=='Control'"}],"mark":{"type":"area","orient":"horizontal","interpolate":"monotone","fill":"#0f4c8c","stroke":"#111","strokeWidth":0.5},"encoding":{"y":{"field":"v","type":"quantitative","scale":{"domain":[0.83,6.795],"nice":false,"zero":false},"axis":{"values":[1,2,3,4,5,6],"title":null}},"x":{"field":"x1","type":"quantitative","stack":null,"scale":{"domain":[0.4,2.6],"nice":false,"zero":false},"axis":{"values":[1,2],"labelExpr":"datum.value==1?'Control':'IDD'","title":null,"labelColor":"#1a1a1a","labelFontSize":11.5,"labelPadding":0.5}},"x2":{"field":"x2"}}},
     {"data":{"name":"vio"},"transform":[{"filter":"datum.p=='D2' && datum.g=='IDD'"}],"mark":{"type":"area","orient":"horizontal","interpolate":"monotone","fill":"#bd2130","stroke":"#111","strokeWidth":0.5},"encoding":{"y":{"field":"v","type":"quantitative"},"x":{"field":"x1","type":"quantitative","stack":null},"x2":{"field":"x2"}}},
     {"data":{"name":"box"},"transform":[{"filter":"datum.p=='D2'"}],"mark":{"type":"rule","color":"#111","strokeWidth":1},"encoding":{"x":{"field":"pos","type":"quantitative"},"y":{"field":"lo","type":"quantitative"},"y2":{"field":"hi"}}},
     {"data":{"name":"box"},"transform":[{"filter":"datum.p=='D2'"}],"mark":{"type":"bar","width":13,"fill":"#fff","stroke":"#111","strokeWidth":0.8},"encoding":{"x":{"field":"pos","type":"quantitative"},"y":{"field":"q1","type":"quantitative"},"y2":{"field":"q3"}}},
     {"data":{"name":"box"},"transform":[{"filter":"datum.p=='D2'"}],"mark":{"type":"tick","orient":"horizontal","size":13,"thickness":1.4,"color":"#111"},"encoding":{"x":{"field":"pos","type":"quantitative"},"y":{"field":"md","type":"quantitative"}}},
     {"data":{"name":"out"},"transform":[{"filter":"datum.p=='D2'"}],"mark":{"type":"point","filled":true,"color":"#111","size":8,"opacity":1},"encoding":{"x":{"field":"pos","type":"quantitative"},"y":{"field":"v","type":"quantitative"}}},
     {"data":{"name":"brk"},"transform":[{"filter":"datum.p=='D2'"}],"mark":{"type":"rule","color":"#666","strokeWidth":0.8},"encoding":{"x":{"field":"x1","type":"quantitative"},"x2":{"field":"x2"},"y":{"field":"v","type":"quantitative"},"y2":{"field":"v2"}}},
     {"data":{"name":"sig"},"transform":[{"filter":"datum.p=='D2'"}],"mark":{"type":"text","fontSize":10,"color":"#555","baseline":"alphabetic","dy":1.5},"encoding":{"x":{"field":"x","type":"quantitative"},"y":{"field":"v","type":"quantitative"},"text":{"field":"t"}}}
    ]},
    {"width":145,"height":186,"view":{"stroke":"#8c8c8c"},"layer":[
     {"data":{"name":"strip"},"transform":[{"filter":"datum.p=='D3'"}],"mark":{"type":"rect","fill":"#d9d9d9","stroke":"#8c8c8c","strokeWidth":1},"encoding":{"x":{"field":"x1","type":"quantitative"},"x2":{"field":"x2"},"y":{"field":"y1","type":"quantitative"},"y2":{"field":"y2"}}},
     {"data":{"name":"strip"},"transform":[{"filter":"datum.p=='D3'"}],"mark":{"type":"text","fontSize":13,"fontWeight":"bold","color":"#1a1a1a"},"encoding":{"x":{"field":"xm","type":"quantitative"},"y":{"field":"ym","type":"quantitative"},"text":{"field":"t"}}},
     {"data":{"name":"vio"},"transform":[{"filter":"datum.p=='D3' && datum.g=='Control'"}],"mark":{"type":"area","orient":"horizontal","interpolate":"monotone","fill":"#0f4c8c","stroke":"#111","strokeWidth":0.5},"encoding":{"y":{"field":"v","type":"quantitative","scale":{"domain":[2.42,8.858],"nice":false,"zero":false},"axis":{"values":[4,6,8],"title":null}},"x":{"field":"x1","type":"quantitative","stack":null,"scale":{"domain":[0.4,2.6],"nice":false,"zero":false},"axis":{"values":[1,2],"labelExpr":"datum.value==1?'Control':'IDD'","title":null,"labelColor":"#1a1a1a","labelFontSize":11.5,"labelPadding":0.5}},"x2":{"field":"x2"}}},
     {"data":{"name":"vio"},"transform":[{"filter":"datum.p=='D3' && datum.g=='IDD'"}],"mark":{"type":"area","orient":"horizontal","interpolate":"monotone","fill":"#bd2130","stroke":"#111","strokeWidth":0.5},"encoding":{"y":{"field":"v","type":"quantitative"},"x":{"field":"x1","type":"quantitative","stack":null},"x2":{"field":"x2"}}},
     {"data":{"name":"box"},"transform":[{"filter":"datum.p=='D3'"}],"mark":{"type":"rule","color":"#111","strokeWidth":1},"encoding":{"x":{"field":"pos","type":"quantitative"},"y":{"field":"lo","type":"quantitative"},"y2":{"field":"hi"}}},
     {"data":{"name":"box"},"transform":[{"filter":"datum.p=='D3'"}],"mark":{"type":"bar","width":13,"fill":"#fff","stroke":"#111","strokeWidth":0.8},"encoding":{"x":{"field":"pos","type":"quantitative"},"y":{"field":"q1","type":"quantitative"},"y2":{"field":"q3"}}},
     {"data":{"name":"box"},"transform":[{"filter":"datum.p=='D3'"}],"mark":{"type":"tick","orient":"horizontal","size":13,"thickness":1.4,"color":"#111"},"encoding":{"x":{"field":"pos","type":"quantitative"},"y":{"field":"md","type":"quantitative"}}},
     {"data":{"name":"brk"},"transform":[{"filter":"datum.p=='D3'"}],"mark":{"type":"rule","color":"#666","strokeWidth":0.8},"encoding":{"x":{"field":"x1","type":"quantitative"},"x2":{"field":"x2"},"y":{"field":"v","type":"quantitative"},"y2":{"field":"v2"}}},
     {"data":{"name":"sig"},"transform":[{"filter":"datum.p=='D3'"}],"mark":{"type":"text","fontSize":10,"color":"#555","baseline":"alphabetic","dy":1.5},"encoding":{"x":{"field":"x","type":"quantitative"},"y":{"field":"v","type":"quantitative"},"text":{"field":"t"}}}
    ]},
    {"width":145,"height":186,"view":{"stroke":"#8c8c8c"},"layer":[
     {"data":{"name":"strip"},"transform":[{"filter":"datum.p=='D4'"}],"mark":{"type":"rect","fill":"#d9d9d9","stroke":"#8c8c8c","strokeWidth":1},"encoding":{"x":{"field":"x1","type":"quantitative"},"x2":{"field":"x2"},"y":{"field":"y1","type":"quantitative"},"y2":{"field":"y2"}}},
     {"data":{"name":"strip"},"transform":[{"filter":"datum.p=='D4'"}],"mark":{"type":"text","fontSize":13,"fontWeight":"bold","color":"#1a1a1a"},"encoding":{"x":{"field":"xm","type":"quantitative"},"y":{"field":"ym","type":"quantitative"},"text":{"field":"t"}}},
     {"data":{"name":"vio"},"transform":[{"filter":"datum.p=='D4' && datum.g=='Control'"}],"mark":{"type":"area","orient":"horizontal","interpolate":"monotone","fill":"#0f4c8c","stroke":"#111","strokeWidth":0.5},"encoding":{"y":{"field":"v","type":"quantitative","scale":{"domain":[5.2,15.358],"nice":false,"zero":false},"axis":{"values":[7.5,10,12.5],"format":".1f","title":null}},"x":{"field":"x1","type":"quantitative","stack":null,"scale":{"domain":[0.4,2.6],"nice":false,"zero":false},"axis":{"values":[1,2],"labelExpr":"datum.value==1?'Control':'IDD'","title":null,"labelColor":"#1a1a1a","labelFontSize":11.5,"labelPadding":0.5}},"x2":{"field":"x2"}}},
     {"data":{"name":"vio"},"transform":[{"filter":"datum.p=='D4' && datum.g=='IDD'"}],"mark":{"type":"area","orient":"horizontal","interpolate":"monotone","fill":"#bd2130","stroke":"#111","strokeWidth":0.5},"encoding":{"y":{"field":"v","type":"quantitative"},"x":{"field":"x1","type":"quantitative","stack":null},"x2":{"field":"x2"}}},
     {"data":{"name":"box"},"transform":[{"filter":"datum.p=='D4'"}],"mark":{"type":"rule","color":"#111","strokeWidth":1},"encoding":{"x":{"field":"pos","type":"quantitative"},"y":{"field":"lo","type":"quantitative"},"y2":{"field":"hi"}}},
     {"data":{"name":"box"},"transform":[{"filter":"datum.p=='D4'"}],"mark":{"type":"bar","width":13,"fill":"#fff","stroke":"#111","strokeWidth":0.8},"encoding":{"x":{"field":"pos","type":"quantitative"},"y":{"field":"q1","type":"quantitative"},"y2":{"field":"q3"}}},
     {"data":{"name":"box"},"transform":[{"filter":"datum.p=='D4'"}],"mark":{"type":"tick","orient":"horizontal","size":13,"thickness":1.4,"color":"#111"},"encoding":{"x":{"field":"pos","type":"quantitative"},"y":{"field":"md","type":"quantitative"}}},
     {"data":{"name":"out"},"transform":[{"filter":"datum.p=='D4'"}],"mark":{"type":"point","filled":true,"color":"#111","size":8,"opacity":1},"encoding":{"x":{"field":"pos","type":"quantitative"},"y":{"field":"v","type":"quantitative"}}},
     {"data":{"name":"brk"},"transform":[{"filter":"datum.p=='D4'"}],"mark":{"type":"rule","color":"#666","strokeWidth":0.8},"encoding":{"x":{"field":"x1","type":"quantitative"},"x2":{"field":"x2"},"y":{"field":"v","type":"quantitative"},"y2":{"field":"v2"}}},
     {"data":{"name":"sig"},"transform":[{"filter":"datum.p=='D4'"}],"mark":{"type":"text","fontSize":10,"color":"#555","baseline":"alphabetic","dy":1.5},"encoding":{"x":{"field":"x","type":"quantitative"},"y":{"field":"v","type":"quantitative"},"text":{"field":"t"}}}
    ]}
   ]}
  ]},
  {"spacing":0,"hconcat":[
   {"width":1,"height":1,"title":{"text":"E","anchor":"start","frame":"group","fontSize":16.5,"offset":-2.5,"dx":-38,"baseline":"alphabetic"},"data":{"values":[{"t":""}]},"mark":{"type":"text"},"encoding":{"text":{"field":"t"}}},
   {"spacing":0,"title":{"text":"GSE56081","anchor":"middle","fontSize":14.5,"fontWeight":"bold","offset":-7.5,"dx":11,"baseline":"alphabetic"},"hconcat":[
    {"width":145,"height":181,"view":{"stroke":"#8c8c8c"},"layer":[
     {"data":{"name":"strip"},"transform":[{"filter":"datum.p=='E1'"}],"mark":{"type":"rect","fill":"#d9d9d9","stroke":"#8c8c8c","strokeWidth":1},"encoding":{"x":{"field":"x1","type":"quantitative"},"x2":{"field":"x2"},"y":{"field":"y1","type":"quantitative"},"y2":{"field":"y2"}}},
     {"data":{"name":"strip"},"transform":[{"filter":"datum.p=='E1'"}],"mark":{"type":"text","fontSize":13,"fontWeight":"bold","color":"#1a1a1a"},"encoding":{"x":{"field":"xm","type":"quantitative"},"y":{"field":"ym","type":"quantitative"},"text":{"field":"t"}}},
     {"data":{"name":"vio"},"transform":[{"filter":"datum.p=='E1' && datum.g=='Control'"}],"mark":{"type":"area","orient":"horizontal","interpolate":"monotone","fill":"#0f4c8c","stroke":"#111","strokeWidth":0.5},"encoding":{"y":{"field":"v","type":"quantitative","scale":{"domain":[2.61,8.8567],"nice":false,"zero":false},"axis":{"values":[3,4,5,6,7,8],"title":"Expression","titleFontSize":13,"titlePadding":0}},"x":{"field":"x1","type":"quantitative","stack":null,"scale":{"domain":[0.4,2.6],"nice":false,"zero":false},"axis":{"values":[1,2],"labelExpr":"datum.value==1?'Control':'IDD'","title":null,"labelColor":"#1a1a1a","labelFontSize":11.5,"labelPadding":0.5}},"x2":{"field":"x2"}}},
     {"data":{"name":"vio"},"transform":[{"filter":"datum.p=='E1' && datum.g=='IDD'"}],"mark":{"type":"area","orient":"horizontal","interpolate":"monotone","fill":"#bd2130","stroke":"#111","strokeWidth":0.5},"encoding":{"y":{"field":"v","type":"quantitative"},"x":{"field":"x1","type":"quantitative","stack":null},"x2":{"field":"x2"}}},
     {"data":{"name":"box"},"transform":[{"filter":"datum.p=='E1'"}],"mark":{"type":"rule","color":"#111","strokeWidth":1},"encoding":{"x":{"field":"pos","type":"quantitative"},"y":{"field":"lo","type":"quantitative"},"y2":{"field":"hi"}}},
     {"data":{"name":"box"},"transform":[{"filter":"datum.p=='E1'"}],"mark":{"type":"bar","width":13,"fill":"#fff","stroke":"#111","strokeWidth":0.8},"encoding":{"x":{"field":"pos","type":"quantitative"},"y":{"field":"q1","type":"quantitative"},"y2":{"field":"q3"}}},
     {"data":{"name":"box"},"transform":[{"filter":"datum.p=='E1'"}],"mark":{"type":"tick","orient":"horizontal","size":13,"thickness":1.4,"color":"#111"},"encoding":{"x":{"field":"pos","type":"quantitative"},"y":{"field":"md","type":"quantitative"}}},
     {"data":{"name":"out"},"transform":[{"filter":"datum.p=='E1'"}],"mark":{"type":"point","filled":true,"color":"#111","size":8,"opacity":1},"encoding":{"x":{"field":"pos","type":"quantitative"},"y":{"field":"v","type":"quantitative"}}},
     {"data":{"name":"brk"},"transform":[{"filter":"datum.p=='E1'"}],"mark":{"type":"rule","color":"#666","strokeWidth":0.8},"encoding":{"x":{"field":"x1","type":"quantitative"},"x2":{"field":"x2"},"y":{"field":"v","type":"quantitative"},"y2":{"field":"v2"}}},
     {"data":{"name":"sig"},"transform":[{"filter":"datum.p=='E1'"}],"mark":{"type":"text","fontSize":10,"color":"#555","baseline":"alphabetic","dy":1.5},"encoding":{"x":{"field":"x","type":"quantitative"},"y":{"field":"v","type":"quantitative"},"text":{"field":"t"}}}
    ]},
    {"width":145,"height":181,"view":{"stroke":"#8c8c8c"},"layer":[
     {"data":{"name":"strip"},"transform":[{"filter":"datum.p=='E2'"}],"mark":{"type":"rect","fill":"#d9d9d9","stroke":"#8c8c8c","strokeWidth":1},"encoding":{"x":{"field":"x1","type":"quantitative"},"x2":{"field":"x2"},"y":{"field":"y1","type":"quantitative"},"y2":{"field":"y2"}}},
     {"data":{"name":"strip"},"transform":[{"filter":"datum.p=='E2'"}],"mark":{"type":"text","fontSize":13,"fontWeight":"bold","color":"#1a1a1a"},"encoding":{"x":{"field":"xm","type":"quantitative"},"y":{"field":"ym","type":"quantitative"},"text":{"field":"t"}}},
     {"data":{"name":"vio"},"transform":[{"filter":"datum.p=='E2' && datum.g=='Control'"}],"mark":{"type":"area","orient":"horizontal","interpolate":"monotone","fill":"#0f4c8c","stroke":"#111","strokeWidth":0.5},"encoding":{"y":{"field":"v","type":"quantitative","scale":{"domain":[4.27,6.2787],"nice":false,"zero":false},"axis":{"values":[4.5,5,5.5,6],"format":".1f","title":null}},"x":{"field":"x1","type":"quantitative","stack":null,"scale":{"domain":[0.4,2.6],"nice":false,"zero":false},"axis":{"values":[1,2],"labelExpr":"datum.value==1?'Control':'IDD'","title":null,"labelColor":"#1a1a1a","labelFontSize":11.5,"labelPadding":0.5}},"x2":{"field":"x2"}}},
     {"data":{"name":"vio"},"transform":[{"filter":"datum.p=='E2' && datum.g=='IDD'"}],"mark":{"type":"area","orient":"horizontal","interpolate":"monotone","fill":"#bd2130","stroke":"#111","strokeWidth":0.5},"encoding":{"y":{"field":"v","type":"quantitative"},"x":{"field":"x1","type":"quantitative","stack":null},"x2":{"field":"x2"}}},
     {"data":{"name":"box"},"transform":[{"filter":"datum.p=='E2'"}],"mark":{"type":"rule","color":"#111","strokeWidth":1},"encoding":{"x":{"field":"pos","type":"quantitative"},"y":{"field":"lo","type":"quantitative"},"y2":{"field":"hi"}}},
     {"data":{"name":"box"},"transform":[{"filter":"datum.p=='E2'"}],"mark":{"type":"bar","width":13,"fill":"#fff","stroke":"#111","strokeWidth":0.8},"encoding":{"x":{"field":"pos","type":"quantitative"},"y":{"field":"q1","type":"quantitative"},"y2":{"field":"q3"}}},
     {"data":{"name":"box"},"transform":[{"filter":"datum.p=='E2'"}],"mark":{"type":"tick","orient":"horizontal","size":13,"thickness":1.4,"color":"#111"},"encoding":{"x":{"field":"pos","type":"quantitative"},"y":{"field":"md","type":"quantitative"}}},
     {"data":{"name":"out"},"transform":[{"filter":"datum.p=='E2'"}],"mark":{"type":"point","filled":true,"color":"#111","size":8,"opacity":1},"encoding":{"x":{"field":"pos","type":"quantitative"},"y":{"field":"v","type":"quantitative"}}},
     {"data":{"name":"brk"},"transform":[{"filter":"datum.p=='E2'"}],"mark":{"type":"rule","color":"#666","strokeWidth":0.8},"encoding":{"x":{"field":"x1","type":"quantitative"},"x2":{"field":"x2"},"y":{"field":"v","type":"quantitative"},"y2":{"field":"v2"}}},
     {"data":{"name":"sig"},"transform":[{"filter":"datum.p=='E2'"}],"mark":{"type":"text","fontSize":10,"color":"#555","baseline":"alphabetic","dy":1.5},"encoding":{"x":{"field":"x","type":"quantitative"},"y":{"field":"v","type":"quantitative"},"text":{"field":"t"}}}
    ]},
    {"width":143,"height":181,"view":{"stroke":"#8c8c8c"},"layer":[
     {"data":{"name":"strip"},"transform":[{"filter":"datum.p=='E3'"}],"mark":{"type":"rect","fill":"#d9d9d9","stroke":"#8c8c8c","strokeWidth":1},"encoding":{"x":{"field":"x1","type":"quantitative"},"x2":{"field":"x2"},"y":{"field":"y1","type":"quantitative"},"y2":{"field":"y2"}}},
     {"data":{"name":"strip"},"transform":[{"filter":"datum.p=='E3'"}],"mark":{"type":"text","fontSize":13,"fontWeight":"bold","color":"#1a1a1a"},"encoding":{"x":{"field":"xm","type":"quantitative"},"y":{"field":"ym","type":"quantitative"},"text":{"field":"t"}}},
     {"data":{"name":"vio"},"transform":[{"filter":"datum.p=='E3' && datum.g=='Control'"}],"mark":{"type":"area","orient":"horizontal","interpolate":"monotone","fill":"#0f4c8c","stroke":"#111","strokeWidth":0.5},"encoding":{"y":{"field":"v","type":"quantitative","scale":{"domain":[6.24,8.2818],"nice":false,"zero":false},"axis":{"values":[6.5,7,7.5,8],"format":".1f","title":null}},"x":{"field":"x1","type":"quantitative","stack":null,"scale":{"domain":[0.4,2.6],"nice":false,"zero":false},"axis":{"values":[1,2],"labelExpr":"datum.value==1?'Control':'IDD'","title":null,"labelColor":"#1a1a1a","labelFontSize":11.5,"labelPadding":0.5}},"x2":{"field":"x2"}}},
     {"data":{"name":"vio"},"transform":[{"filter":"datum.p=='E3' && datum.g=='IDD'"}],"mark":{"type":"area","orient":"horizontal","interpolate":"monotone","fill":"#bd2130","stroke":"#111","strokeWidth":0.5},"encoding":{"y":{"field":"v","type":"quantitative"},"x":{"field":"x1","type":"quantitative","stack":null},"x2":{"field":"x2"}}},
     {"data":{"name":"box"},"transform":[{"filter":"datum.p=='E3'"}],"mark":{"type":"rule","color":"#111","strokeWidth":1},"encoding":{"x":{"field":"pos","type":"quantitative"},"y":{"field":"lo","type":"quantitative"},"y2":{"field":"hi"}}},
     {"data":{"name":"box"},"transform":[{"filter":"datum.p=='E3'"}],"mark":{"type":"bar","width":13,"fill":"#fff","stroke":"#111","strokeWidth":0.8},"encoding":{"x":{"field":"pos","type":"quantitative"},"y":{"field":"q1","type":"quantitative"},"y2":{"field":"q3"}}},
     {"data":{"name":"box"},"transform":[{"filter":"datum.p=='E3'"}],"mark":{"type":"tick","orient":"horizontal","size":13,"thickness":1.4,"color":"#111"},"encoding":{"x":{"field":"pos","type":"quantitative"},"y":{"field":"md","type":"quantitative"}}},
     {"data":{"name":"out"},"transform":[{"filter":"datum.p=='E3'"}],"mark":{"type":"point","filled":true,"color":"#111","size":8,"opacity":1},"encoding":{"x":{"field":"pos","type":"quantitative"},"y":{"field":"v","type":"quantitative"}}},
     {"data":{"name":"brk"},"transform":[{"filter":"datum.p=='E3'"}],"mark":{"type":"rule","color":"#666","strokeWidth":0.8},"encoding":{"x":{"field":"x1","type":"quantitative"},"x2":{"field":"x2"},"y":{"field":"v","type":"quantitative"},"y2":{"field":"v2"}}},
     {"data":{"name":"sig"},"transform":[{"filter":"datum.p=='E3'"}],"mark":{"type":"text","fontSize":10,"color":"#555","baseline":"alphabetic","dy":1.5},"encoding":{"x":{"field":"x","type":"quantitative"},"y":{"field":"v","type":"quantitative"},"text":{"field":"t"}}}
    ]},
    {"width":145,"height":181,"view":{"stroke":"#8c8c8c"},"layer":[
     {"data":{"name":"strip"},"transform":[{"filter":"datum.p=='E4'"}],"mark":{"type":"rect","fill":"#d9d9d9","stroke":"#8c8c8c","strokeWidth":1},"encoding":{"x":{"field":"x1","type":"quantitative"},"x2":{"field":"x2"},"y":{"field":"y1","type":"quantitative"},"y2":{"field":"y2"}}},
     {"data":{"name":"strip"},"transform":[{"filter":"datum.p=='E4'"}],"mark":{"type":"text","fontSize":13,"fontWeight":"bold","color":"#1a1a1a"},"encoding":{"x":{"field":"xm","type":"quantitative"},"y":{"field":"ym","type":"quantitative"},"text":{"field":"t"}}},
     {"data":{"name":"vio"},"transform":[{"filter":"datum.p=='E4' && datum.g=='Control'"}],"mark":{"type":"area","orient":"horizontal","interpolate":"monotone","fill":"#0f4c8c","stroke":"#111","strokeWidth":0.5},"encoding":{"y":{"field":"v","type":"quantitative","scale":{"domain":[2.1,8.9427],"nice":false,"zero":false},"axis":{"values":[4,6,8],"title":null}},"x":{"field":"x1","type":"quantitative","stack":null,"scale":{"domain":[0.4,2.6],"nice":false,"zero":false},"axis":{"values":[1,2],"labelExpr":"datum.value==1?'Control':'IDD'","title":null,"labelColor":"#1a1a1a","labelFontSize":11.5,"labelPadding":0.5}},"x2":{"field":"x2"}}},
     {"data":{"name":"vio"},"transform":[{"filter":"datum.p=='E4' && datum.g=='IDD'"}],"mark":{"type":"area","orient":"horizontal","interpolate":"monotone","fill":"#bd2130","stroke":"#111","strokeWidth":0.5},"encoding":{"y":{"field":"v","type":"quantitative"},"x":{"field":"x1","type":"quantitative","stack":null},"x2":{"field":"x2"}}},
     {"data":{"name":"box"},"transform":[{"filter":"datum.p=='E4'"}],"mark":{"type":"rule","color":"#111","strokeWidth":1},"encoding":{"x":{"field":"pos","type":"quantitative"},"y":{"field":"lo","type":"quantitative"},"y2":{"field":"hi"}}},
     {"data":{"name":"box"},"transform":[{"filter":"datum.p=='E4'"}],"mark":{"type":"bar","width":13,"fill":"#fff","stroke":"#111","strokeWidth":0.8},"encoding":{"x":{"field":"pos","type":"quantitative"},"y":{"field":"q1","type":"quantitative"},"y2":{"field":"q3"}}},
     {"data":{"name":"box"},"transform":[{"filter":"datum.p=='E4'"}],"mark":{"type":"tick","orient":"horizontal","size":13,"thickness":1.4,"color":"#111"},"encoding":{"x":{"field":"pos","type":"quantitative"},"y":{"field":"md","type":"quantitative"}}},
     {"data":{"name":"out"},"transform":[{"filter":"datum.p=='E4'"}],"mark":{"type":"point","filled":true,"color":"#111","size":8,"opacity":1},"encoding":{"x":{"field":"pos","type":"quantitative"},"y":{"field":"v","type":"quantitative"}}},
     {"data":{"name":"brk"},"transform":[{"filter":"datum.p=='E4'"}],"mark":{"type":"rule","color":"#666","strokeWidth":0.8},"encoding":{"x":{"field":"x1","type":"quantitative"},"x2":{"field":"x2"},"y":{"field":"v","type":"quantitative"},"y2":{"field":"v2"}}},
     {"data":{"name":"sig"},"transform":[{"filter":"datum.p=='E4'"}],"mark":{"type":"text","fontSize":10,"color":"#555","baseline":"alphabetic","dy":1.5},"encoding":{"x":{"field":"x","type":"quantitative"},"y":{"field":"v","type":"quantitative"},"text":{"field":"t"}}}
    ]}
   ]}
  ]}
 ]}
]
}
